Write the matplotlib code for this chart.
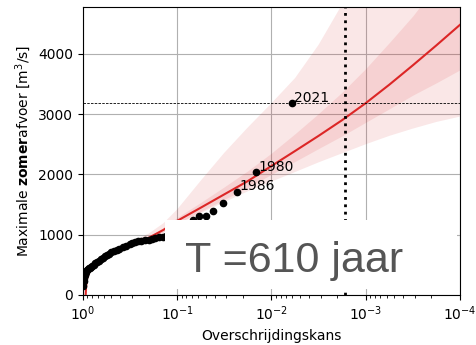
import matplotlib
matplotlib.use('Agg')
import matplotlib.pyplot as plt
from matplotlib.patches import Rectangle

# Waargenomen jaarmaxima (overschrijdingskans, afvoer in m3/s)
p_obs = [0.994, 0.985, 0.976, 0.967, 0.958, 0.950, 0.941, 0.932, 0.92, 0.90,
         0.88, 0.86, 0.84, 0.82, 0.80, 0.77, 0.74, 0.71, 0.68, 0.65,
         0.62, 0.59, 0.56, 0.53, 0.50, 0.47, 0.44, 0.41, 0.38, 0.35,
         0.32, 0.30, 0.28, 0.26, 0.24, 0.22, 0.20, 0.185, 0.17, 0.155,
         0.14, 0.13, 0.12, 0.11, 0.10, 0.09, 0.08,
         0.0687, 0.0588, 0.0499, 0.0414, 0.0325, 0.0234, 0.0147, 0.0061]
q_obs = [150, 230, 280, 310, 330, 350, 365, 380, 395, 415,
         430, 440, 450, 470, 485, 505, 525, 545, 565, 590,
         615, 640, 660, 685, 705, 725, 745, 770, 795, 815,
         845, 865, 885, 895, 900, 910, 920, 930, 945, 955,
         968, 985, 1000, 1030, 1060, 1110, 1180,
         1245, 1311, 1311, 1394, 1532, 1715, 2036, 3182]

# Gelabelde jaren
label_years = ['2021', '1980', '1986']
label_p = [0.0061, 0.0147, 0.0234]
label_q = [3182, 2036, 1715]

# Gefitte verdeling met betrouwbaarheidsbanden
p_fit = [0.94, 0.93, 0.92, 0.9, 0.85, 0.8, 0.7, 0.56, 0.4, 0.3,
         0.2, 0.14, 0.1, 0.056, 0.0316, 0.0178, 0.01, 0.0056, 0.00316, 0.00178,
         0.001, 5.6e-4, 3.16e-4, 1.78e-4, 1e-4]
q_fit = [-50, 100, 200, 290, 390, 460, 560, 660, 770, 850,
         950, 1080, 1230, 1450, 1670, 1890, 2140, 2390, 2640, 2900,
         3182, 3490, 3810, 4140, 4481]
q_in_hi = [-50, 100, 200, 292, 393, 465, 566, 668, 780, 863,
           974, 1118, 1285, 1537, 1795, 2060, 2354, 2677, 3010, 3364,
           3755, 4188, 4629, 5134, 5646]
q_in_lo = [-50, 100, 200, 288, 386, 455, 554, 653, 762, 837,
           929, 1050, 1187, 1388, 1587, 1782, 2001, 2216, 2429, 2639,
           2864, 3089, 3315, 3519, 3734]
q_out_hi = [-50, 100, 200, 292, 395, 470, 575, 680, 800, 885,
            1020, 1190, 1420, 1900, 2360, 2780, 3180, 3600, 4150, 4820,
            5600, 6500, 7500, 8600, 9800]
q_out_lo = [-50, 100, 200, 285, 382, 448, 540, 635, 735, 810,
            905, 1030, 1160, 1360, 1540, 1720, 1880, 2040, 2200, 2350,
            2500, 2640, 2760, 2870, 2959]

T_jaar = 610
q_2021 = 3182

fig = plt.figure(figsize=(4.77, 3.45), dpi=100)
ax = fig.add_axes([0.174, 0.145, 0.79, 0.835])

ax.fill_between(p_fit, q_out_lo, q_out_hi, color='#d62728', alpha=0.11, lw=0)
ax.fill_between(p_fit, q_in_lo, q_in_hi, color='#d62728', alpha=0.11, lw=0)
ax.plot(p_fit, q_fit, color='#dc2626', lw=1.5, zorder=3)

ax.plot(p_obs, q_obs, 'o', color='k', ms=4.5, zorder=4)
for yr, p, q in zip(label_years, label_p, label_q):
    ax.annotate(yr, (p, q), xytext=(2, 4), textcoords='offset points',
                va='center', ha='left', fontsize=10, zorder=5)

ax.axhline(q_2021, color='k', lw=0.6, ls=(0, (3, 1.5)), zorder=3)
ax.axvline(1 / T_jaar, color='k', lw=2, ls=':', zorder=3)

ax.set_xscale('log')
ax.set_xlim(1, 1e-4)
ax.set_ylim(0, 4780)
ax.set_yticks([0, 1000, 2000, 3000, 4000])
ax.grid(True, which='major', color='#b0b0b0', lw=0.8)
ax.set_axisbelow(True)
ax.tick_params(labelsize=10)
ax.set_xlabel('Overschrijdingskans', fontsize=10)
ax.set_ylabel(r'Maximale $\bf{zomer}$afvoer [m$^3$/s]', fontsize=10)

# witte tekstbox met herhalingstijd
W, H = 477, 345
fig.patches.append(Rectangle((165 / W, 1 - 289 / H), (457 - 165) / W, (289 - 220) / H,
                             transform=fig.transFigure, facecolor='white',
                             edgecolor='none', zorder=10))
fig.text(185 / W, 1 - 272 / H, 'T =%d jaar' % T_jaar, fontsize=31,
         family='Liberation Sans', color='#555555', va='baseline', ha='left',
         zorder=11)

fig.savefig('out.png', dpi=100)
